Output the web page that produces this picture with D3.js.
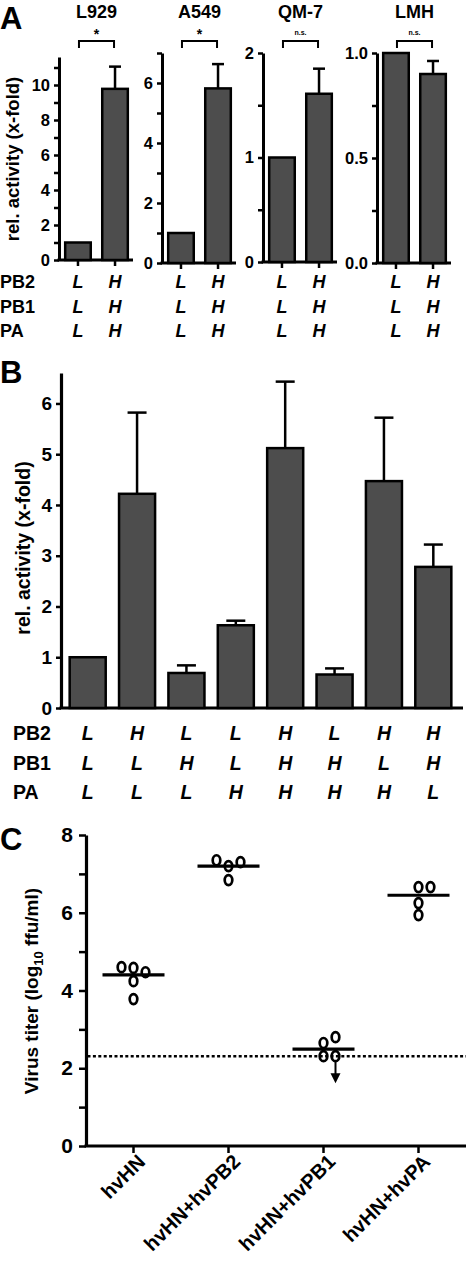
<!DOCTYPE html>
<html><head><meta charset="utf-8">
<script src="https://cdn.jsdelivr.net/npm/d3@7"></script>
<style>
html,body{margin:0;padding:0;background:#fff;}
text{font-family:"Liberation Sans",Arial,sans-serif;font-weight:bold;fill:#000;}
</style></head>
<body>
<svg id="fig" width="466" height="1262"></svg>
<script>
// ---------- DATA ----------
// Panel A
const aCells = ["L929", "A549", "QM-7", "LMH"];
const aGroups = ["LLL", "HHH"];
const aMeans = [[1, 9.78], [1, 5.82], [1, 1.61], [1, 0.90]];
const aErrs = [[0, 1.27], [0, 0.81], [0, 0.24], [0, 0.062]];
const aSig = ["*", "*", "n.s.", "n.s."];
const aMax = [11.6, 7, 2, 1];
const aMajorTicks = [[0, 2, 4, 6, 8, 10], [0, 2, 4, 6], [0, 1, 2], [0, 0.5, 1]];
const aMinorTicks = [[1, 3, 5, 7, 9, 11], [1, 3, 5, 7], [0.5, 1.5], [0.25, 0.75]];
const aTickFormats = ["d", "d", "d", ".1f"];
const aRowNames = ["PB2", "PB1", "PA"];
const aRowValues = [["L", "H"], ["L", "H"], ["L", "H"]];

// Panel B
const bCombos = ["LLL", "HLL", "LHL", "LLH", "HHH", "LHH", "HLH", "HHL"];
const bMeans = [1.0, 4.22, 0.69, 1.63, 5.12, 0.66, 4.47, 2.78];
const bErrs = [0, 1.60, 0.15, 0.09, 1.31, 0.12, 1.25, 0.44];
const bMax = 6.6;
const bTicks = [0, 1, 2, 3, 4, 5, 6];
const bRowNames = ["PB2", "PB1", "PA"];
const bRowValues = [
  ["L", "H", "L", "L", "H", "L", "H", "H"],
  ["L", "L", "H", "L", "H", "H", "L", "H"],
  ["L", "L", "L", "H", "H", "H", "H", "L"]
];

// Panel C
const cGroups = ["hvHN", "hvHN+hvPB2", "hvHN+hvPB1", "hvHN+hvPA"];
const cValues = [
  [4.60, 4.47, 4.24, 4.58, 3.78],
  [7.30, 7.35, 7.20, 6.84],
  [2.65, 2.80, 2.31, 2.31],
  [6.66, 6.66, 6.25, 5.94]
];
const cBelowLimit = [
  [false, false, false, false, false],
  [false, false, false, false],
  [false, false, false, true],
  [false, false, false, false]
];
const cMeans = [4.40, 7.20, 2.49, 6.45];
const cLimit = 2.31;
const cMax = 8;
const cMajorTicks = [0, 2, 4, 6, 8];
const cMinorTicks = [1, 3, 5, 7];

// ---------- DRAW ----------
const svg = d3.select("#fig");
const BAR_FILL = "#4d4d4d";

function panelLetter(t, x, y) {
  svg.append("text").attr("x", x).attr("y", y).attr("font-size", 31).text(t);
}
function axisStyle(g, w) {
  g.selectAll("path.domain").attr("stroke", "#000").attr("stroke-width", w);
  g.selectAll(".tick line").attr("stroke", "#000").attr("stroke-width", 2.5);
}

// ===== Panel A =====
panelLetter("A", 0, 29);
const aAxisX = [59, 162, 263, 377];
const aY0 = [260, 263, 262, 263];
const aYTop = [57, 53, 53, 53];

aCells.forEach((cell, i) => {
  const g = svg.append("g");
  const y = d3.scaleLinear().domain([0, aMax[i]]).range([aY0[i], aYTop[i]]);
  const x = d3.scaleBand().domain(aGroups).range([aAxisX[i] + 1, aAxisX[i] + 74])
    .paddingInner(0.31).paddingOuter(0.14);
  const fmt = d3.format(aTickFormats[i]);

  // minor ticks
  const gm = g.append("g").attr("transform", `translate(${aAxisX[i]},0)`)
    .call(d3.axisLeft(y).tickValues(aMinorTicks[i]).tickSize(5).tickFormat(""));
  gm.select("path.domain").remove();
  axisStyle(gm, 3);
  // major axis
  const ga = g.append("g").attr("transform", `translate(${aAxisX[i]},0)`)
    .call(d3.axisLeft(y).tickValues(aMajorTicks[i]).tickSize(5).tickSizeOuter(0)
      .tickPadding(4).tickFormat(fmt));
  axisStyle(ga, 3);
  ga.selectAll(".tick text").attr("font-size", 16.5).attr("font-family", '"Liberation Sans",Arial,sans-serif').attr("font-weight", "bold");

  // bottom axis
  const gx = g.append("g").attr("transform", `translate(0,${aY0[i]})`);
  gx.append("line").attr("x1", aAxisX[i] - 1.5).attr("x2", aAxisX[i] + 74)
    .attr("stroke", "#000").attr("stroke-width", 3);
  aGroups.forEach(k => {
    gx.append("line").attr("x1", x(k) + x.bandwidth() / 2).attr("x2", x(k) + x.bandwidth() / 2)
      .attr("y1", 0).attr("y2", 6).attr("stroke", "#000").attr("stroke-width", 2.5);
  });

  // error bars
  aGroups.forEach((k, j) => {
    const e = aErrs[i][j];
    if (e > 0) {
      const cx = x(k) + x.bandwidth() / 2;
      g.append("line").attr("x1", cx).attr("x2", cx).attr("y1", y(aMeans[i][j])).attr("y2", y(aMeans[i][j] + e))
        .attr("stroke", "#000").attr("stroke-width", 2.5);
      g.append("line").attr("x1", cx - 6).attr("x2", cx + 6).attr("y1", y(aMeans[i][j] + e)).attr("y2", y(aMeans[i][j] + e))
        .attr("stroke", "#000").attr("stroke-width", 2.5);
    }
  });
  // bars
  g.selectAll("rect.bar").data(aGroups).enter().append("rect")
    .attr("x", k => x(k)).attr("width", x.bandwidth())
    .attr("y", (k, j) => y(aMeans[i][j])).attr("height", (k, j) => aY0[i] - y(aMeans[i][j]))
    .attr("fill", BAR_FILL).attr("stroke", "#000").attr("stroke-width", 2.5);

  const c1 = x(aGroups[0]) + x.bandwidth() / 2, c2 = x(aGroups[1]) + x.bandwidth() / 2;
  // title
  g.append("text").attr("x", (c1 + c2) / 2).attr("y", 18).attr("text-anchor", "middle")
    .attr("font-size", 18).text(cell);
  // bracket
  g.append("path").attr("d", `M${c1 + 1},48 V41 H${c2 - 1} V48`).attr("fill", "none")
    .attr("stroke", "#000").attr("stroke-width", 2);
  const isStar = aSig[i] === "*";
  g.append("text").attr("x", (c1 + c2) / 2).attr("y", isStar ? 39 : 35).attr("text-anchor", "middle")
    .attr("font-size", isStar ? 14 : 7).attr("font-weight", isStar ? "bold" : "normal").text(aSig[i]);

  // row letters
  aRowValues.forEach((row, r) => {
    row.forEach((v, j) => {
      g.append("text").attr("x", x(aGroups[j]) + x.bandwidth() / 2).attr("y", 288 + r * 24.5)
        .attr("text-anchor", "middle").attr("font-size", 18).attr("font-style", "italic").text(v);
    });
  });
});
aRowNames.forEach((n, r) => {
  svg.append("text").attr("x", 0).attr("y", 288 + r * 24.5).attr("font-size", 18).text(n);
});
svg.append("text").attr("transform", "translate(19,159) rotate(-90)").attr("text-anchor", "middle")
  .attr("font-size", 18.5).text("rel. activity (x-fold)");

// ===== Panel B =====
panelLetter("B", 0, 383);
{
  const axisX = 61, y0 = 708, yTop = 373;
  const y = d3.scaleLinear().domain([0, bMax]).range([y0, yTop]);
  const x = d3.scaleBand().domain(bCombos).range([63, 458]).paddingInner(0.27).paddingOuter(0.135);
  const ga = svg.append("g").attr("transform", `translate(${axisX},0)`)
    .call(d3.axisLeft(y).tickValues(bTicks).tickSize(5).tickSizeOuter(0).tickPadding(4).tickFormat(d3.format("d")));
  axisStyle(ga, 3.2);
  ga.selectAll(".tick text").attr("font-size", 19).attr("font-family", '"Liberation Sans",Arial,sans-serif').attr("font-weight", "bold");
  svg.append("line").attr("x1", axisX - 1.5).attr("x2", 463).attr("y1", y0).attr("y2", y0)
    .attr("stroke", "#000").attr("stroke-width", 3.2);

  bCombos.forEach((k, j) => {
    const e = bErrs[j];
    if (e > 0) {
      const cx = x(k) + x.bandwidth() / 2;
      svg.append("line").attr("x1", cx).attr("x2", cx).attr("y1", y(bMeans[j])).attr("y2", y(bMeans[j] + e))
        .attr("stroke", "#000").attr("stroke-width", 2.5);
      svg.append("line").attr("x1", cx - 9.5).attr("x2", cx + 9.5).attr("y1", y(bMeans[j] + e)).attr("y2", y(bMeans[j] + e))
        .attr("stroke", "#000").attr("stroke-width", 2.5);
    }
  });
  svg.selectAll("rect.bbar").data(bCombos).enter().append("rect")
    .attr("x", k => x(k)).attr("width", x.bandwidth())
    .attr("y", (k, j) => y(bMeans[j])).attr("height", (k, j) => y0 - y(bMeans[j]))
    .attr("fill", BAR_FILL).attr("stroke", "#000").attr("stroke-width", 2.5);

  bRowValues.forEach((row, r) => {
    svg.append("text").attr("x", 13).attr("y", 740 + r * 29.5).attr("font-size", 19.5).text(bRowNames[r]);
    row.forEach((v, j) => {
      svg.append("text").attr("x", x(bCombos[j]) + x.bandwidth() / 2).attr("y", 740 + r * 29.5)
        .attr("text-anchor", "middle").attr("font-size", 19.5).attr("font-style", "italic").text(v);
    });
  });
  svg.append("text").attr("transform", "translate(30,548) rotate(-90)").attr("text-anchor", "middle")
    .attr("font-size", 19.5).text("rel. activity (x-fold)");
}

// ===== Panel C =====
panelLetter("C", 0, 850);
{
  const axisX = 86, y0 = 1146, yTop = 835;
  const y = d3.scaleLinear().domain([0, cMax]).range([y0, yTop]);
  const x = d3.scaleBand().domain(cGroups).range([86, 466]);
  const gm = svg.append("g").attr("transform", `translate(${axisX},0)`)
    .call(d3.axisLeft(y).tickValues(cMinorTicks).tickSize(7).tickFormat(""));
  gm.select("path.domain").remove();
  axisStyle(gm, 3);
  const ga = svg.append("g").attr("transform", `translate(${axisX},0)`)
    .call(d3.axisLeft(y).tickValues(cMajorTicks).tickSize(7).tickSizeOuter(0).tickPadding(6).tickFormat(d3.format("d")));
  axisStyle(ga, 3.2);
  ga.selectAll(".tick text").attr("font-size", 21).attr("font-family", '"Liberation Sans",Arial,sans-serif').attr("font-weight", "bold");

  const gx = svg.append("g").attr("transform", `translate(0,${y0})`)
    .call(d3.axisBottom(x).tickSize(7).tickSizeOuter(0).tickFormat(""));
  gx.select("path.domain").attr("d", `M${axisX - 1.5},0H466`);
  axisStyle(gx, 3.2);
  cGroups.forEach(k => {
    const cx = x(k) + x.bandwidth() / 2;
    svg.append("text").attr("transform", `translate(${cx + 13},${y0 + 17}) rotate(-45)`)
      .attr("text-anchor", "end").attr("font-size", 20).text(k);
  });

  // detection limit
  svg.append("line").attr("x1", axisX + 1.5).attr("x2", 466).attr("y1", y(cLimit)).attr("y2", y(cLimit))
    .attr("stroke", "#000").attr("stroke-width", 2.6).attr("stroke-dasharray", "3,2.4");

  // points with simple dodge
  const step = 12, thresh = 11;
  cGroups.forEach((k, gi) => {
    const cx = x(k) + x.bandwidth() / 2;
    svg.append("line").attr("x1", cx - 31).attr("x2", cx + 31).attr("y1", y(cMeans[gi])).attr("y2", y(cMeans[gi]))
      .attr("stroke", "#000").attr("stroke-width", 3.2);
    const pts = cValues[gi].map((v, i) => ({ v, below: cBelowLimit[gi][i] }))
      .sort((a, b) => a.v - b.v);
    const placed = [];
    const cands = [0, 1, -1, 2, -2, 3, -3];
    pts.forEach(p => {
      const py = y(p.v);
      for (const c of cands) {
        const clash = placed.some(q => q.slot === c && Math.abs(q.py - py) < thresh);
        if (!clash) { p.slot = c; p.py = py; placed.push(p); break; }
      }
    });
    placed.forEach(p => {
      const px = cx + p.slot * step;
      if (p.below) {
        svg.append("line").attr("x1", px).attr("x2", px).attr("y1", p.py + 4).attr("y2", p.py + 18)
          .attr("stroke", "#000").attr("stroke-width", 2);
        svg.append("path").attr("d", `M${px - 5},${p.py + 17} L${px + 5},${p.py + 17} L${px},${p.py + 27} Z`)
          .attr("fill", "#000");
      }
      svg.append("ellipse").attr("cx", px).attr("cy", p.py).attr("rx", 3.8).attr("ry", 5)
        .attr("fill", "none").attr("stroke", "#000").attr("stroke-width", 2.7);
    });
  });

  const t = svg.append("text").attr("transform", "translate(38,991) rotate(-90)").attr("text-anchor", "middle")
    .attr("font-size", 19);
  t.append("tspan").text("Virus titer (log");
  t.append("tspan").attr("font-size", 13).attr("dy", 5).text("10");
  t.append("tspan").attr("dy", -5).text(" ffu/ml)");
}
</script>
</body></html>
